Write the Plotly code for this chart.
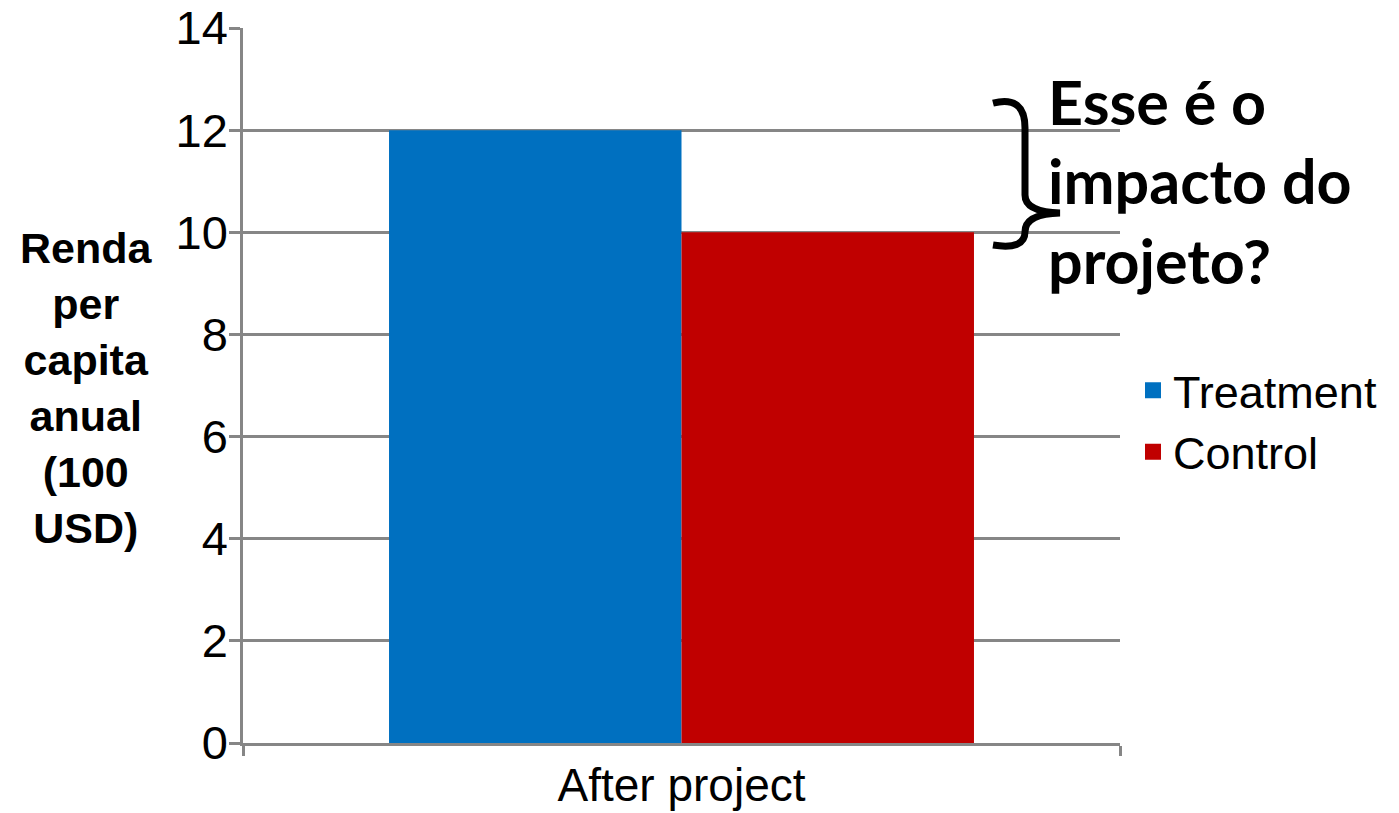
import plotly.graph_objects as go

# Chart data
categories = ["After project"]
groups = ["Treatment", "Control"]
treatment_values = [12]
control_values = [10]
colors = {"Treatment": "#0070C0", "Control": "#C00000"}
y_ticks = [0, 2, 4, 6, 8, 10, 12, 14]

W, H = 1399, 813
L, R, T, B = 243, 279, 28, 70
plot_w = W - L - R
plot_h = H - T - B


def px_to_paper_x(px):
    return (px - L) / plot_w


def px_to_paper_y(py):
    return (H - B - py) / plot_h


fig = go.Figure()
fig.add_trace(go.Bar(x=categories, y=treatment_values, name="Treatment",
                     marker=dict(color=colors["Treatment"], line=dict(width=0)),
                     showlegend=False))
fig.add_trace(go.Bar(x=categories, y=control_values, name="Control",
                     marker=dict(color=colors["Control"], line=dict(width=0)),
                     showlegend=False))

# Legend entries with larger square swatches
for g in groups:
    fig.add_trace(go.Scatter(x=[None], y=[None], mode="markers", name=g,
                             marker=dict(symbol="square", size=20, color=colors[g])))

# Curly brace spanning the gap between the two bars
t_val = treatment_values[0]
c_val = control_values[0]
x0 = px_to_paper_x(993)
xm = px_to_paper_x(1025)
xt = px_to_paper_x(1060)
brace = (
    f"M {x0},{t_val + 0.53} Q {xm},{t_val + 0.69} {xm},{t_val + 0.04} "
    f"L {xm},{c_val + 0.73} Q {xm},{c_val + 0.40} {xt},{c_val + 0.38} "
    f"Q {xm},{c_val + 0.36} {xm},{c_val + 0.01} "
    f"Q {xm},{c_val - 0.35} {x0},{c_val - 0.25}"
)
fig.add_shape(type="path", path=brace, xref="paper", yref="y",
              line=dict(color="black", width=7))

fig.add_annotation(
    text="Esse é o<br>impacto do<br>projeto?",
    xref="paper", yref="paper",
    x=px_to_paper_x(1046), y=px_to_paper_y(181),
    xanchor="left", yanchor="middle", align="left", showarrow=False,
    font=dict(family="Lato", size=61, color="black", weight="bold"),
)

fig.add_annotation(
    text="<b>Renda<br>per<br>capita<br>anual<br>(100<br>USD)</b>",
    xref="paper", yref="paper",
    x=px_to_paper_x(86), y=px_to_paper_y(388),
    xanchor="center", yanchor="middle", align="center", showarrow=False,
    font=dict(family="Liberation Sans", size=43, color="black"),
)

fig.update_layout(
    width=W, height=H,
    margin=dict(l=L, r=R, t=T, b=B, autoexpand=False),
    paper_bgcolor="white", plot_bgcolor="white",
    barmode="group", bargap=0.333, bargroupgap=0,
    font=dict(family="Liberation Sans", color="black"),
    legend=dict(
        x=px_to_paper_x(1133), y=px_to_paper_y(421),
        xanchor="left", yanchor="middle",
        font=dict(family="Liberation Sans", size=45, color="black"),
        tracegroupgap=0, itemwidth=30,
    ),
)

fig.update_yaxes(
    range=[0, 14], tickvals=y_ticks, automargin=False,
    showgrid=True, gridcolor="#868686", gridwidth=2.5,
    showline=True, linecolor="#868686", linewidth=2.5,
    ticks="outside", ticklen=11, tickcolor="#868686", tickwidth=2.5,
    tickfont=dict(family="Liberation Sans", size=47, color="black"),
    ticklabelstandoff=-8,
    zeroline=False,
)
fig.update_xaxes(
    automargin=False,
    showline=True, linecolor="#868686", linewidth=2.5,
    ticks="outside", tickson="boundaries", ticklen=10,
    tickcolor="#868686", tickwidth=2.5,
    tickfont=dict(family="Liberation Sans", size=46, color="black"),
    showgrid=False,
)

fig.write_html("out.html")
